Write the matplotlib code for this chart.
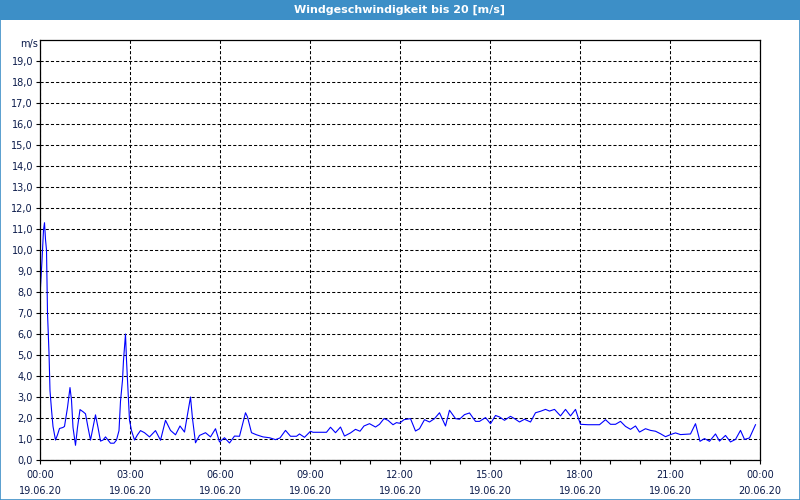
"""Wind speed over one day (19.06.20), 0-20 m/s scale, saved as out.png."""

import matplotlib

matplotlib.use("Agg")
import matplotlib.pyplot as plt
from matplotlib.patches import Rectangle
from matplotlib.ticker import FixedLocator, MultipleLocator

# --- data: minutes after 00:00 on 19.06.20, wind speed in m/s ---
minutes = [
    1, 4, 7, 9, 11, 13, 15, 18, 20, 23, 26, 31, 35, 39, 46, 49, 55, 60, 63, 66,
    71, 75, 80, 86, 91, 96, 101, 106, 111, 116, 121, 126, 131, 136, 141, 148,
    153, 158, 161, 165, 167, 171, 173, 176, 179, 183, 189, 195, 201, 209, 219,
    231, 241, 251, 261, 271, 280, 289, 296, 301, 305, 311, 319, 331, 341, 351,
    359, 369, 379, 389, 399, 411, 415, 423, 433, 446, 459, 471, 480, 491, 501,
    513, 519, 529, 541, 546, 573, 581, 591, 601, 609, 621, 631, 640, 648, 659,
    671, 679, 688, 696, 706, 713, 719, 728, 741, 751, 759, 769, 779, 789, 799,
    811, 819, 831, 839, 849, 859, 871, 879, 891, 901, 911, 919, 929, 941, 949,
    959, 969, 981, 991, 1001, 1011, 1019, 1029, 1041, 1051, 1061, 1071, 1077,
    1081, 1096, 1119, 1131, 1141, 1151, 1161, 1171, 1181, 1191, 1199, 1211,
    1221, 1231, 1241, 1251, 1261, 1271, 1281, 1301, 1311, 1320, 1329, 1339,
    1351, 1359, 1371, 1381, 1391, 1401, 1409, 1419, 1431,
]
speed = [
    8.25, 9.5, 10.95, 11.3, 10.5, 10.0, 7.0, 5.1, 3.3, 2.4, 1.6, 0.95, 1.2, 1.5,
    1.55, 1.6, 2.5, 3.45, 2.85, 1.55, 0.7, 1.55, 2.4, 2.3, 2.2, 1.55, 0.95,
    1.55, 2.15, 1.55, 0.9, 0.95, 1.1, 0.95, 0.8, 0.8, 0.95, 1.4, 2.8, 3.8,
    4.75, 6.0, 4.75, 3.3, 1.9, 1.4, 0.95, 1.2, 1.4, 1.3, 1.1, 1.4, 0.94, 1.89,
    1.41, 1.2, 1.62, 1.33, 2.29, 3.0, 1.97, 0.82, 1.17, 1.3, 1.1, 1.49, 0.86,
    1.06, 0.81, 1.14, 1.13, 2.25, 2.05, 1.3, 1.2, 1.1, 1.06, 0.97, 1.05, 1.41,
    1.13, 1.13, 1.24, 1.08, 1.37, 1.32, 1.32, 1.56, 1.3, 1.57, 1.14, 1.29,
    1.46, 1.37, 1.62, 1.73, 1.57, 1.7, 1.97, 1.89, 1.68, 1.78, 1.75, 1.92,
    1.97, 1.38, 1.49, 1.92, 1.81, 1.97, 2.25, 1.62, 2.37, 1.97, 1.94, 2.16,
    2.24, 1.84, 1.84, 2.02, 1.73, 2.12, 2.05, 1.89, 2.08, 1.97, 1.81, 1.94,
    1.81, 2.25, 2.32, 2.41, 2.33, 2.41, 2.1, 2.41, 2.1, 2.41, 1.97, 1.7, 1.68,
    1.68, 1.92, 1.7, 1.7, 1.84, 1.6, 1.46, 1.62, 1.33, 1.49, 1.41, 1.37, 1.25,
    1.11, 1.21, 1.29, 1.21, 1.24, 1.73, 0.89, 1.02, 0.89, 1.24, 0.9, 1.17,
    0.86, 0.98, 1.41, 0.98, 1.05, 1.68,
]

tick_minutes = [0, 180, 360, 540, 720, 900, 1080, 1260, 1440]
tick_labels = [
    "00:00\n19.06.20", "03:00\n19.06.20", "06:00\n19.06.20", "09:00\n19.06.20",
    "12:00\n19.06.20", "15:00\n19.06.20", "18:00\n19.06.20", "21:00\n19.06.20",
    "00:00\n20.06.20",
]
y_ticks = [i for i in range(20)]
y_labels = [f"{v},0" for v in y_ticks]

TITLE = "Windgeschwindigkeit bis 20 [m/s]"
BAR = "#3d8fc7"
INK = "#0a1a4a"

fig = plt.figure(figsize=(8, 5), dpi=100)
fig.patch.set_facecolor("white")

# header bar + thin frame round the whole picture
fig.patches.append(Rectangle((0, 0.96), 1, 0.04, transform=fig.transFigure,
                             facecolor=BAR, edgecolor="none", zorder=0))
fig.patches.append(Rectangle((0.0006, 0.001), 0.9988, 0.998, transform=fig.transFigure,
                             facecolor="none", edgecolor=BAR, linewidth=1.2, zorder=0))
fig.text(0.5, 0.98, TITLE, ha="center", va="center", color="white",
         fontsize=8, fontweight="bold")

ax = fig.add_axes([0.05, 0.08, 0.90, 0.84])
ax.plot(minutes, speed, color="#0000ff", linewidth=0.8)

ax.set_xlim(0, 1440)
ax.set_ylim(0, 20)
ax.xaxis.set_major_locator(FixedLocator(tick_minutes))
ax.xaxis.set_minor_locator(MultipleLocator(60))
ax.set_xticks(tick_minutes)
ax.set_xticklabels(tick_labels, fontsize=7, color=INK, linespacing=1.75)
ax.set_yticks(y_ticks)
ax.set_yticklabels(y_labels, fontsize=7, color=INK)

ax.grid(True, which="major", color="black", linestyle=(0, (3, 2)), linewidth=0.75)
ax.set_axisbelow(True)
for s in ax.spines.values():
    s.set_color("black")
    s.set_linewidth(0.9)
ax.tick_params(axis="both", which="both", direction="out", length=3, width=0.8,
               pad=2, color="black")
ax.tick_params(axis="x", which="major", pad=4)

fig.text(0.047, 0.911, "m/s", ha="right", va="center", fontsize=7, color=INK)

fig.savefig("out.png", dpi=100, facecolor="white")
